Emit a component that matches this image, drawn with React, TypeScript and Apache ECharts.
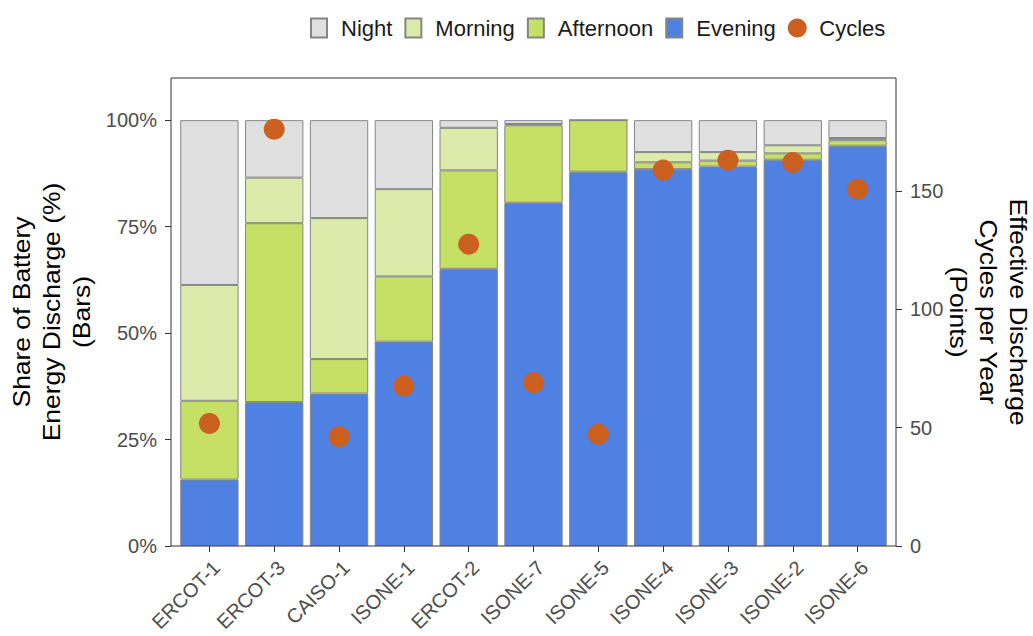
import { useEffect, useRef } from 'react';
import * as echarts from 'echarts';

// Storage sites, ordered by evening share
const sites = [
  'ERCOT-1', 'ERCOT-3', 'CAISO-1', 'ISONE-1', 'ERCOT-2', 'ISONE-7',
  'ISONE-5', 'ISONE-4', 'ISONE-3', 'ISONE-2', 'ISONE-6',
];

// Share of battery energy discharge by time of day (%)
const evening = [15.6, 33.8, 35.8, 48.0, 65.1, 80.6, 87.9, 88.5, 89.1, 90.7, 94.0];
const afternoon = [18.5, 42.0, 8.1, 15.3, 23.1, 18.2, 12.1, 1.6, 1.4, 1.5, 1.3];
const morning = [27.2, 10.7, 33.1, 20.5, 10.0, 0.3, 0.0, 2.4, 2.0, 1.9, 0.5];
const night = [38.7, 13.5, 23.0, 16.2, 1.8, 0.9, 0.0, 7.5, 7.5, 5.9, 4.2];

// Effective discharge cycles per year
const cycles = [51.8, 176.2, 46.2, 67.6, 127.6, 69.0, 47.2, 158.9, 163.1, 162.1, 150.8];

const shareTicks = [0, 25, 50, 75, 100];
const cycleTicks = [0, 50, 100, 150];

const FONT = '"Liberation Sans", Arial, Helvetica, sans-serif';
const COLORS = {
  Night: '#e0e0e0',
  Morning: '#dcebaa',
  Afternoon: '#c6e066',
  Evening: '#4e81e2',
  Cycles: '#cb6020',
};

// secondary axis: 100 % share corresponds to 180 cycles
const SHARE_MAX = 109.9;
const CYCLE_MAX = SHARE_MAX * 1.8;

const barIcon = 'path://M0 0h16v19H0z';

export default function App() {
  const ref = useRef<HTMLDivElement>(null);

  useEffect(() => {
    if (!ref.current) return;
    const chart = echarts.init(ref.current, null, { renderer: 'svg' });

    const barSeries = (name: keyof typeof COLORS, data: number[]) => ({
      name,
      type: 'bar' as const,
      stack: 'share',
      data,
      barWidth: '90%',
      itemStyle: { color: COLORS[name], borderColor: '#858585', borderWidth: 1 },
      emphasis: { disabled: true },
    });

    chart.setOption({
      animation: false,
      textStyle: { fontFamily: FONT },
      legend: {
        left: 305,
        top: 12,
        itemWidth: 20,
        itemHeight: 19,
        itemGap: 12,
        selectedMode: false,
        textStyle: { fontSize: 22, color: '#1a1a1a', padding: [0, 0, 0, 7] },
        data: [
          { name: 'Night', icon: barIcon },
          { name: 'Morning', icon: barIcon },
          { name: 'Afternoon', icon: barIcon },
          { name: 'Evening', icon: barIcon },
          { name: 'Cycles', icon: 'circle' },
        ],
      },
      grid: { left: 177, right: 143, top: 78, bottom: 90, outerBoundsMode: 'none', containLabel: false },
      xAxis: {
        type: 'category',
        data: sites,
        axisLine: { show: false },
        axisTick: { show: true, alignWithLabel: true, length: 6, lineStyle: { color: '#333' } },
        axisLabel: {
          interval: 0,
          rotate: 45,
          margin: 11,
          verticalAlign: 'top',
          fontSize: 20,
          color: '#4d4d4d',
        },
      },
      yAxis: [
        {
          type: 'value',
          min: 0,
          max: SHARE_MAX,
          position: 'left',
          offset: 6,
          splitLine: { show: false },
          axisLine: { show: false },
          axisTick: { show: true, length: 6, customValues: shareTicks, lineStyle: { color: '#333' } },
          axisLabel: {
            customValues: shareTicks,
            formatter: '{value}%',
            fontSize: 20,
            color: '#4d4d4d',
            margin: 14,
          },
        },
        {
          type: 'value',
          min: 0,
          max: CYCLE_MAX,
          position: 'right',
          offset: 6,
          splitLine: { show: false },
          axisLine: { show: false },
          axisTick: { show: true, length: 6, customValues: cycleTicks, lineStyle: { color: '#333' } },
          axisLabel: {
            customValues: cycleTicks,
            fontSize: 20,
            color: '#4d4d4d',
            margin: 14,
          },
        },
      ],
      series: [
        barSeries('Evening', evening),
        barSeries('Afternoon', afternoon),
        barSeries('Morning', morning),
        barSeries('Night', night),
        {
          name: 'Cycles',
          type: 'scatter',
          yAxisIndex: 1,
          data: cycles,
          symbol: 'circle',
          symbolSize: 21,
          z: 5,
          itemStyle: { color: COLORS.Cycles, opacity: 1 },
          emphasis: { disabled: true },
        },
      ],
      graphic: [
        {
          type: 'rect',
          z: 10,
          silent: true,
          shape: { x: 171, y: 78, width: 725, height: 468 },
          style: { fill: 'none', stroke: '#333', lineWidth: 1 },
        },
        {
          type: 'text',
          x: 52,
          y: 312,
          rotation: Math.PI / 2,
          scaleX: 1.15,
          style: {
            text: 'Share of Battery\nEnergy Discharge (%)\n(Bars)',
            fontSize: 23,
            lineHeight: 30,
            fontFamily: FONT,
            fill: '#000',
            align: 'center',
            verticalAlign: 'middle',
            textAlign: 'center',
            textVerticalAlign: 'middle',
          },
        },
        {
          type: 'text',
          x: 988,
          y: 312,
          rotation: -Math.PI / 2,
          scaleX: 1.15,
          style: {
            text: 'Effective Discharge\nCycles per Year\n(Points)',
            fontSize: 23,
            lineHeight: 30,
            fontFamily: FONT,
            fill: '#000',
            align: 'center',
            verticalAlign: 'middle',
            textAlign: 'center',
            textVerticalAlign: 'middle',
          },
        },
      ],
    });

    return () => chart.dispose();
  }, []);

  return (
    <div
      ref={ref}
      style={{ position: 'fixed', left: 0, top: 0, width: 1033, height: 636, background: '#fff' }}
    />
  );
}
